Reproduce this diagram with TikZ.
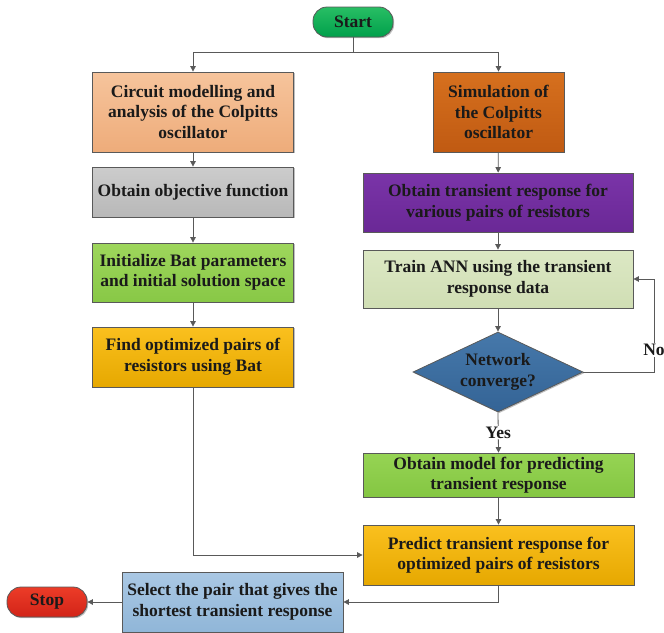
\documentclass[tikz,border=0pt]{standalone}
\usepackage{fontspec}
\setmainfont{Liberation Serif}
\usetikzlibrary{shapes.geometric,arrows.meta,shadows}
\definecolor{edge}{HTML}{595959}
\definecolor{ink}{HTML}{1A1A1A}
\begin{document}
\begin{tikzpicture}[x=1pt,y=-1pt,
  box/.style={draw=edge, line width=0.8pt, align=center, inner sep=2pt,
    font=\fontsize{17.5}{20.5}\selectfont\bfseries, text=ink,
    drop shadow={shadow xshift=1.2pt, shadow yshift=-1.2pt, opacity=0.25, fill=black}},
  pill/.style={box, rounded corners=14pt, minimum width=80pt, minimum height=30pt},
  arr/.style={draw=edge, line width=0.8pt, -{Triangle[width=5.5pt,length=5.5pt]}},
  ln/.style={draw=edge, line width=0.8pt},
  lab/.style={fill=white, inner sep=1pt, font=\fontsize{17.5}{20}\selectfont\bfseries, text=ink}]
\useasboundingbox (0,0) rectangle (664,632);

\node[pill, top color={rgb,255:red,40;green,190;blue,100}, bottom color={rgb,255:red,0;green,160;blue,75}] (start) at (353,22) {Start};

\node[box, minimum width=201pt, minimum height=80pt, top color={rgb,255:red,246;green,196;blue,156}, bottom color={rgb,255:red,238;green,172;blue,122}] (c1) at (193,112) {Circuit modelling and\\analysis of the Colpitts\\oscillator};
\node[box, minimum width=201pt, minimum height=50pt, top color={rgb,255:red,204;green,204;blue,204}, bottom color={rgb,255:red,184;green,184;blue,184}] (c2) at (193,192) {Obtain objective function};
\node[box, minimum width=201pt, minimum height=59pt, top color={rgb,255:red,158;green,214;blue,92}, bottom color={rgb,255:red,136;green,200;blue,70}] (c3) at (193,272.5) {Initialize Bat parameters\\and initial solution space};
\node[box, minimum width=201pt, minimum height=60pt, top color={rgb,255:red,250;green,192;blue,30}, bottom color={rgb,255:red,230;green,168;blue,0}] (c4) at (193,357) {Find optimized pairs of\\resistors using Bat};

\node[box, minimum width=131pt, minimum height=80pt, top color={rgb,255:red,214;green,112;blue,30}, bottom color={rgb,255:red,192;green,90;blue,18}] (r1) at (498.5,112) {Simulation of\\the Colpitts\\oscillator};
\node[box, minimum width=270pt, minimum height=59pt, top color={rgb,255:red,122;green,52;blue,168}, bottom color={rgb,255:red,106;green,40;blue,150}] (r2) at (498,202.5) {Obtain transient response for\\various pairs of resistors};
\node[box, minimum width=270pt, minimum height=58pt, top color={rgb,255:red,220;green,232;blue,196}, bottom color={rgb,255:red,208;green,222;blue,180}] (r3) at (498,279) {Train ANN using the transient\\response data};
\node[box, diamond, aspect=2.125, minimum width=170pt, minimum height=80pt, inner sep=0pt, top color={rgb,255:red,70;green,120;blue,170}, bottom color={rgb,255:red,52;green,100;blue,150}] (dia) at (498,372) {Network\\converge?};
\node[box, minimum width=271pt, minimum height=44pt, top color={rgb,255:red,150;green,212;blue,84}, bottom color={rgb,255:red,132;green,198;blue,66}] (r5) at (498.5,475) {Obtain model for predicting\\transient response};
\node[box, minimum width=271pt, minimum height=60pt, top color={rgb,255:red,250;green,192;blue,30}, bottom color={rgb,255:red,230;green,168;blue,0}] (r6) at (498.5,555) {Predict transient response for\\optimized pairs of resistors};

\node[box, minimum width=221pt, minimum height=60pt, top color={rgb,255:red,170;green,200;blue,228}, bottom color={rgb,255:red,144;green,182;blue,216}] (sel) at (232.5,602) {Select the pair that gives the\\shortest transient response};
\node[pill, top color={rgb,255:red,236;green,60;blue,40}, bottom color={rgb,255:red,210;green,36;blue,24}] (stop) at (47,602) {Stop};

\coordinate (j) at (353,52);
\draw[ln] (start) -- (j);
\draw[arr] (j) -| (c1);
\draw[arr] (j) -| (r1);
\draw[arr] (c1) -- (c2);
\draw[arr] (c2) -- (c3);
\draw[arr] (c3) -- (c4);
\draw[arr] (r1) -- (r2);
\draw[arr] (r2) -- (r3);
\draw[arr] (r3) -- (dia);
\coordinate (nocorner) at (654,372);
\draw[arr] (dia.east) -- (nocorner) |- (r3.east);
\node[lab] at (654,350) {No};
\draw[arr] (dia.south) -- node[lab] {Yes} (r5.north);
\draw[arr] (r5) -- (r6);
\draw[arr] (c4.south) |- (r6.west);
\draw[arr] (r6.south) |- (sel.east);
\draw[arr] (sel) -- (stop);
\end{tikzpicture}
\end{document}
